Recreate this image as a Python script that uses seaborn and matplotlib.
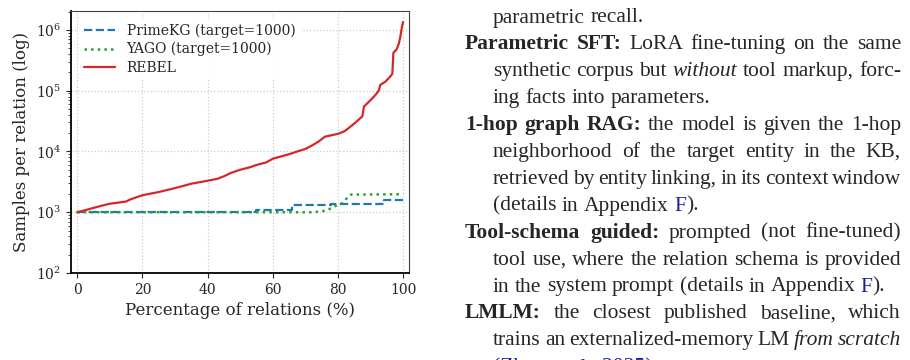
import numpy as np
import pandas as pd
import matplotlib
matplotlib.use("Agg")
import matplotlib.pyplot as plt
import seaborn as sns

# Sorted samples per relation (percent of relations -> samples)
rebel_pct = [0, 3, 5, 8, 10, 13, 15, 16, 18, 20, 22, 25, 28, 30, 33, 35, 38, 40,
             43, 45, 47, 50, 53, 55, 58, 60, 63, 65, 68, 70, 72, 74, 76, 78, 80,
             82, 84, 86, 87.5, 88, 89, 90, 91.5, 92.5, 93, 94.5, 96, 96.7, 97,
             98, 98.7, 99.2, 99.6, 100]
rebel_val = [1000, 1100, 1180, 1300, 1380, 1450, 1500, 1600, 1750, 1900, 2000,
             2150, 2350, 2500, 2750, 2950, 3150, 3300, 3550, 3900, 4400, 5000,
             5500, 6000, 6600, 7600, 8400, 9000, 10200, 11000, 12500, 14500,
             17500, 18500, 19500, 21500, 26000, 32000, 38000, 55000, 62000,
             70000, 85000, 100000, 125000, 140000, 170000, 190000, 420000,
             480000, 600000, 800000, 1100000, 1350000]

prime_pct = [0, 55, 66, 78, 94, 100]
prime_val = [1000, 1100, 1300, 1380, 1620, 1620]

yago_pct = [0, 72, 75, 77, 79, 81, 82, 83, 84, 100]
yago_val = [1000, 1000, 1030, 1100, 1250, 1380, 1500, 1800, 1950, 1980]

series_names = ["PrimeKG (target=1000)", "YAGO (target=1000)", "REBEL"]
series_colors = ["#1f77b4", "#2ca02c", "#d62728"]

sns.set_style("ticks")
plt.rcParams["font.family"] = ["DejaVu Serif"]
plt.rcParams["mathtext.fontset"] = "dejavuserif"
plt.rcParams["font.size"] = 10

W, H = 910, 360
fig = plt.figure(figsize=(W / 100, H / 100), dpi=100)
ax = fig.add_axes([71 / W, 1 - 273 / H, (409 - 71) / W, (273 - 11) / H])

sns.lineplot(x=prime_pct, y=prime_val, ax=ax, color=series_colors[0], linestyle="--",
             linewidth=1.6, drawstyle="steps-post", label=series_names[0])
sns.lineplot(x=yago_pct, y=yago_val, ax=ax, color=series_colors[1], linestyle=":",
             linewidth=1.8, label=series_names[1])
sns.lineplot(x=rebel_pct, y=rebel_val, ax=ax, color=series_colors[2], linestyle="-",
             linewidth=1.6, label=series_names[2])

ax.set_yscale("log")
ax.set_ylim(100, 2.05e6)
ax.set_xlim(-1.9, 101.8)
ax.set_xticks([0, 20, 40, 60, 80, 100])
ax.grid(True, which="major", linestyle=":", color="0.8", linewidth=0.9)
ax.set_xlabel("Percentage of relations (%)", fontsize=12)
ax.set_ylabel("Samples per relation (log)", fontsize=12)
ax.tick_params(labelsize=10)
for side in ["top", "right"]:
    ax.spines[side].set_visible(True)
    ax.spines[side].set_color("0.25")
for side in ["left", "bottom"]:
    ax.spines[side].set_color("black")
    ax.spines[side].set_linewidth(1.3)

leg = ax.legend(loc="upper left", fontsize=10, frameon=True, framealpha=0.9,
                edgecolor="none", handlelength=2.3, borderaxespad=0.5,
                labelspacing=0.3)

# Paper text beside the figure
FONT = "Liberation Serif"
FS = 15.5
LINK = "#1c1ca0"
STY = {"r": {}, "b": {"fontweight": "bold"}, "i": {"fontstyle": "italic"},
       "l": {"color": LINK}}

# (hanging label line?, justified?, segments)
body = [
    (False, False, [("parametric recall.", "r")]),
    (True, True, [("Parametric SFT:", "b"), (" LoRA fine-tuning on the same", "r")]),
    (False, True, [("synthetic corpus but ", "r"), ("without", "i"), (" tool markup, forc-", "r")]),
    (False, False, [("ing facts into parameters.", "r")]),
    (True, True, [("1-hop graph RAG:", "b"), (" the model is given the 1-hop", "r")]),
    (False, True, [("neighborhood of the target entity in the KB,", "r")]),
    (False, True, [("retrieved by entity linking, in its context window", "r")]),
    (False, False, [("(details in Appendix ", "r"), ("F", "l"), (").", "r")]),
    (True, True, [("Tool-schema guided:", "b"), (" prompted (not fine-tuned)", "r")]),
    (False, True, [("tool use, where the relation schema is provided", "r")]),
    (False, False, [("in the system prompt (details in Appendix ", "r"), ("F", "l"), (").", "r")]),
    (True, True, [("LMLM:", "b"), (" the closest published baseline, which", "r")]),
    (False, True, [("trains an externalized-memory LM ", "r"), ("from scratch", "i")]),
    (False, False, [("(Zhao et al., 2025)", "l"), (".", "r")]),
]

renderer = fig.canvas.get_renderer()


def text_width(s, sty):
    t = fig.text(0, 0, s, fontsize=FS, family=FONT, **STY[sty])
    w = t.get_window_extent(renderer).width
    t.remove()
    return w


def split_words(segs):
    words = [[]]
    for txt, sty in segs:
        parts = txt.split(" ")
        for i, p in enumerate(parts):
            if i > 0:
                words.append([])
            if p:
                words[-1].append((p, sty))
    return [w for w in words if w]


space = text_width("a a", "r") - text_width("aa", "r")
x_label, x_indent, x_right = 465, 493, 901
y0, dy = 22.5, 26.9

for i, (hang, justify, segs) in enumerate(body):
    y = y0 + i * dy
    x_start = x_label if hang else x_indent
    words = split_words(segs)
    widths = [[text_width(p, s) for p, s in w] for w in words]
    total = sum(sum(w) for w in widths)
    if justify and len(words) > 1:
        gap = (x_right - x_start - total) / (len(words) - 1)
    else:
        gap = space
    x = x_start
    for w, ws in zip(words, widths):
        for (p, s), pw in zip(w, ws):
            fig.text(x / W, 1 - y / H, p, fontsize=FS, family=FONT, va="baseline",
                     ha="left", **STY[s])
            x += pw
        x += gap

fig.savefig("out.png", dpi=100)
